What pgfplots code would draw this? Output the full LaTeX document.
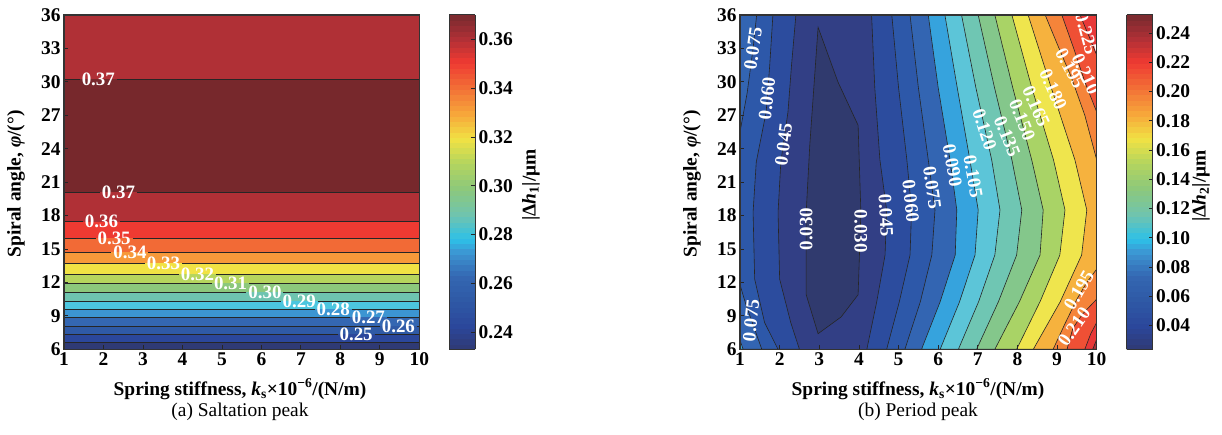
\documentclass[border=0pt]{standalone}
\usepackage{fontspec}
\setmainfont{Liberation Serif}
\usepackage{pgfplots}
\pgfplotsset{compat=1.18}
\newcommand\tl{\fontsize{19.5}{21}\selectfont\bfseries}
\newcommand\cl{\fontsize{19}{20}\selectfont\bfseries}
% plot 1 band colours
\definecolor{a0}{HTML}{2F3A74}
\definecolor{a1}{HTML}{2B479B}
\definecolor{a2}{HTML}{2F5AA6}
\definecolor{a3}{HTML}{3467B2}
\definecolor{a4}{HTML}{3C95D2}
\definecolor{a5}{HTML}{4CC6DF}
\definecolor{a6}{HTML}{6EC4B0}
\definecolor{a7}{HTML}{8CC87C}
\definecolor{a8}{HTML}{B6D55D}
\definecolor{a9}{HTML}{F1E244}
\definecolor{a10}{HTML}{F7993A}
\definecolor{a11}{HTML}{F26A36}
\definecolor{a12}{HTML}{EE3A32}
\definecolor{a13}{HTML}{B03036}
\definecolor{a14}{HTML}{77282C}
% plot 2 band colours
\definecolor{c0}{HTML}{303A6E}
\definecolor{c1}{HTML}{323F85}
\definecolor{c2}{HTML}{2C4C9E}
\definecolor{c3}{HTML}{2D58A9}
\definecolor{c4}{HTML}{3365B2}
\definecolor{c5}{HTML}{36A3DD}
\definecolor{c6}{HTML}{5CC5D8}
\definecolor{c7}{HTML}{6FC6B3}
\definecolor{c8}{HTML}{84C78B}
\definecolor{c9}{HTML}{A9D366}
\definecolor{c10}{HTML}{EFE54D}
\definecolor{c11}{HTML}{F6B23E}
\definecolor{c12}{HTML}{F5843A}
\definecolor{c13}{HTML}{EF5035}
\definecolor{c14}{HTML}{E83838}
\definecolor{c15}{HTML}{AD2F3A}
\tikzset{clab/.style={text=white, font=\cl, inner sep=0pt}}
\pgfplotsset{
  colormap={mymap}{rgb255(0cm)=(47,58,116) rgb255(7cm)=(43,71,155) rgb255(15cm)=(47,90,166) rgb255(22cm)=(52,103,178) rgb255(29cm)=(60,149,210) rgb255(33cm)=(45,192,232) rgb255(40cm)=(110,196,176) rgb255(48cm)=(140,200,124) rgb255(56cm)=(182,213,93) rgb255(63cm)=(241,226,68) rgb255(71cm)=(247,163,58) rgb255(79cm)=(242,106,54) rgb255(86cm)=(238,58,50) rgb255(93cm)=(176,48,54) rgb255(100cm)=(119,42,46)},
  base/.style={
    scale only axis, width=355.3bp, height=334.3bp,
    xmin=1, xmax=10, ymin=6, ymax=36,
    xtick={1,2,3,4,5,6,7,8,9,10}, ytick={6,9,12,15,18,21,24,27,30,33,36},
    tick align=inside, xtick pos=left, ytick pos=left,
    major tick length=4bp,
    tick style={black!85, line width=0.8bp},
    axis line style={black!80, line width=1.1bp},
    tick label style={font=\tl},
    /pgf/number format/assume math mode=true,
    unbounded coords=jump,
    axis on top,
    colormap name=mymap,
    colorbar sampled,
  },
  cbar/.style={
    colorbar style={
      scale only axis, width=26bp, samples=64,
      at={(parent axis.north east)}, anchor=north west, xshift=21.4bp,
      tick align=inside, ytick pos=right, major tick length=4bp,
      tick style={black!85, line width=0.8bp},
      axis line style={black!80, line width=1bp},
      axis on top,
      yticklabel style={font=\tl},
      yticklabel={\pgfmathprintnumber[fixed,fixed zerofill,precision=2,assume math mode=true]{\tick}},
      ytick={#1},
    }
  },
}
\begin{document}
\begin{tikzpicture}
\useasboundingbox (0,0) rectangle (1222bp,435bp);
% ---------------- (a) ----------------
\begin{axis}[base, at={(64bp,85.7bp)}, anchor=south west,
  point meta min=0.233, point meta max=0.370,
  cbar={0.24,0.26,0.28,0.30,0.32,0.34,0.36}]
\addplot[fill=a0, draw=none] coordinates {(1,6)(10,6)(10,6.6)(1,6.6)} -- cycle;
\addplot[fill=a1, draw=none] coordinates {(1,6.6)(10,6.6)(10,7.34)(1,7.34)} -- cycle;
\addplot[fill=a2, draw=none] coordinates {(1,7.34)(10,7.34)(10,8.10)(1,8.10)} -- cycle;
\addplot[fill=a3, draw=none] coordinates {(1,8.10)(10,8.10)(10,8.87)(1,8.87)} -- cycle;
\addplot[fill=a4, draw=none] coordinates {(1,8.87)(10,8.87)(10,9.59)(1,9.59)} -- cycle;
\addplot[fill=a5, draw=none] coordinates {(1,9.59)(10,9.59)(10,10.33)(1,10.33)} -- cycle;
\addplot[fill=a6, draw=none] coordinates {(1,10.33)(10,10.33)(10,11.11)(1,11.11)} -- cycle;
\addplot[fill=a7, draw=none] coordinates {(1,11.11)(10,11.11)(10,11.92)(1,11.92)} -- cycle;
\addplot[fill=a8, draw=none] coordinates {(1,11.92)(10,11.92)(10,12.76)(1,12.76)} -- cycle;
\addplot[fill=a9, draw=none] coordinates {(1,12.76)(10,12.76)(10,13.71)(1,13.71)} -- cycle;
\addplot[fill=a10, draw=none] coordinates {(1,13.71)(10,13.71)(10,14.70)(1,14.70)} -- cycle;
\addplot[fill=a11, draw=none] coordinates {(1,14.70)(10,14.70)(10,15.96)(1,15.96)} -- cycle;
\addplot[fill=a12, draw=none] coordinates {(1,15.96)(10,15.96)(10,17.45)(1,17.45)} -- cycle;
\addplot[fill=a13, draw=none] coordinates {(1,17.45)(10,17.45)(10,20.09)(1,20.09)} -- cycle;
\addplot[fill=a14, draw=none] coordinates {(1,20.09)(10,20.09)(10,30.26)(1,30.26)} -- cycle;
\addplot[fill=a13, draw=none] coordinates {(1,30.26)(10,30.26)(10,36)(1,36)} -- cycle;
\addplot[black!85, line width=0.6bp] coordinates {
 (1,30.26)(1.40,30.26)(1.5,nan)(2.34,30.26)(10,30.26)(5,nan)
 (1,20.09)(1.91,20.09)(2,nan)(2.85,20.09)(10,20.09)(5,nan)
 (1,17.45)(1.48,17.45)(1.5,nan)(2.42,17.45)(10,17.45)(5,nan)
 (1,15.96)(1.80,15.96)(2,nan)(2.74,15.96)(10,15.96)(5,nan)
 (1,14.70)(2.20,14.70)(2.3,nan)(3.14,14.70)(10,14.70)(5,nan)
 (1,13.71)(3.05,13.71)(3.2,nan)(3.99,13.71)(10,13.71)(5,nan)
 (1,12.76)(3.91,12.76)(4,nan)(4.85,12.76)(10,12.76)(5,nan)
 (1,11.92)(4.75,11.92)(5,nan)(5.69,11.92)(10,11.92)(5,nan)
 (1,11.11)(5.62,11.11)(5.8,nan)(6.56,11.11)(10,11.11)(5,nan)
 (1,10.33)(6.49,10.33)(6.6,nan)(7.43,10.33)(10,10.33)(5,nan)
 (1,9.59)(7.35,9.59)(7.5,nan)(8.29,9.59)(10,9.59)(5,nan)
 (1,8.87)(8.24,8.87)(8.4,nan)(9.18,8.87)(10,8.87)(5,nan)
 (1,8.10)(9.00,8.10)(9.2,nan)(9.94,8.10)(10,8.10)(5,nan)
 (1,7.34)(7.93,7.34)(8,nan)(8.87,7.34)(10,7.34)(5,nan)
 (1,6.60)(10,6.60)};
\node[clab] at (axis cs:1.87,30.26) {0.37};
\node[clab] at (axis cs:2.38,20.09) {0.37};
\node[clab] at (axis cs:1.95,17.45) {0.36};
\node[clab] at (axis cs:2.27,15.96) {0.35};
\node[clab] at (axis cs:2.67,14.70) {0.34};
\node[clab] at (axis cs:3.52,13.71) {0.33};
\node[clab] at (axis cs:4.38,12.76) {0.32};
\node[clab] at (axis cs:5.22,11.92) {0.31};
\node[clab] at (axis cs:6.09,11.11) {0.30};
\node[clab] at (axis cs:6.96,10.33) {0.29};
\node[clab] at (axis cs:7.82,9.59) {0.28};
\node[clab] at (axis cs:8.71,8.87) {0.27};
\node[clab] at (axis cs:9.47,8.10) {0.26};
\node[clab] at (axis cs:8.40,7.34) {0.25};
\end{axis}
% ---------------- (b) ----------------
\begin{axis}[base, width=356.7bp, at={(740bp,85.7bp)}, anchor=south west,
  point meta min=0.0236, point meta max=0.2525,
  cbar={0.04,0.06,0.08,0.10,0.12,0.14,0.16,0.18,0.20,0.22,0.24}]
\addplot[fill=c1, draw=none] coordinates {(1,6)(10,6)(10,36)(1,36)} -- cycle;
\pgfplotsset{every axis plot/.append style={draw=black!85, line width=0.6bp}}
% island < 0.030
\addplot[fill=c0] coordinates {(2.97,34.9)(3.47,30)(3.98,26.1)(4.05,18.3)(3.98,10.9)(3.55,8.9)(2.97,7.4)(2.67,10.9)(2.67,18.3)(2.76,24.3)(2.97,34.9)} -- cycle;
% 0.045
\addplot[fill=c2] coordinates {(1,36)(2.41,36)(2.30,31.5)(2.21,27.3)(2.03,22.8)(1.96,18.3)(2.0,12.3)(2.28,8.4)(2.5,6)(1,6)} -- cycle;
\addplot[fill=c2] coordinates {(4.32,36)(4.40,29.5)(4.53,23)(4.70,18.5)(4.66,14.46)(4.45,10.27)(4.20,6)(10,6)(10,36)} -- cycle;
% 0.060
\addplot[fill=c3] coordinates {(1,36)(1.83,36)(1.75,31.5)(1.66,27.3)(1.41,22.8)(1.33,18.3)(1.37,12.3)(1.62,8.4)(1.96,6)(1,6)} -- cycle;
\addplot[fill=c3] coordinates {(4.83,36)(5.00,29.5)(5.21,23)(5.33,18.5)(5.29,14.46)(5.02,10.27)(4.70,6)(10,6)(10,36)} -- cycle;
% 0.075
\addplot[fill=c4] coordinates {(1,36)(1.42,36)(1.33,33)(1.18,29)(1,25.5)} -- cycle;
\addplot[fill=c4] coordinates {(1,11.8)(1.15,10)(1.3,8.5)(1.45,7)(1.55,6)(1,6)} -- cycle;
\addplot[fill=c4] coordinates {(5.29,36)(5.50,29.5)(5.75,23)(5.92,18.5)(5.84,14.46)(5.55,10.27)(5.16,6)(10,6)(10,36)} -- cycle;
% 0.090
\addplot[fill=c5] coordinates {(1,6.8)(1.08,6)(1,6)} -- cycle;
\addplot[fill=c5] coordinates {(5.75,36)(6.00,29.5)(6.30,23)(6.47,18.5)(6.43,14.46)(6.05,10.27)(5.58,6)(10,6)(10,36)} -- cycle;
% 0.105
\addplot[fill=c6] coordinates {(6.17,36)(6.48,29.5)(6.80,23)(7.01,18.5)(6.93,14.46)(6.54,10.27)(6.05,6)(10,6)(10,36)} -- cycle;
% 0.120
\addplot[fill=c7] coordinates {(6.59,36)(6.95,29.5)(7.35,23)(7.56,18.5)(7.43,14.46)(7.02,10.27)(6.51,6)(10,6)(10,36)} -- cycle;
% 0.135
\addplot[fill=c8] coordinates {(7.01,36)(7.42,29.5)(7.86,23)(8.11,18.5)(7.98,14.46)(7.52,10.27)(6.97,6)(10,6)(10,36)} -- cycle;
% 0.150
\addplot[fill=c9] coordinates {(7.43,36)(7.88,29.5)(8.36,23)(8.65,18.5)(8.57,14.46)(8.05,10.27)(7.43,6)(10,6)(10,36)} -- cycle;
% 0.165
\addplot[fill=c10] coordinates {(7.86,36)(8.36,29.5)(8.91,23)(9.20,18.5)(9.07,14.46)(8.57,10.27)(7.98,6)(10,6)(10,36)} -- cycle;
% 0.180
\addplot[fill=c11] coordinates {(8.27,36)(8.85,29.5)(9.45,23)(9.75,18.5)(9.62,14.46)(9.08,10.27)(8.40,6)(10,6)(10,36)} -- cycle;
% 0.195
\addplot[fill=c12] coordinates {(8.70,36)(9.05,33)(9.35,30.5)(9.7,27)(10,23)(10,36)} -- cycle;
\addplot[fill=c12] coordinates {(10,13.2)(9.75,12)(9.5,10.5)(9.2,8.3)(8.9,6)(10,6)} -- cycle;
% 0.210
\addplot[fill=c13] coordinates {(9.12,36)(9.42,33)(9.7,30)(10,27.3)(10,36)} -- cycle;
\addplot[fill=c13] coordinates {(10,10.5)(9.65,9.2)(9.4,7.9)(9.25,6)(10,6)} -- cycle;
% 0.225
\addplot[fill=c14] coordinates {(9.58,36)(9.78,34.3)(10,32.4)(10,36)} -- cycle;
\addplot[fill=c14] coordinates {(10,8.4)(9.85,7.4)(9.7,6)(10,6)} -- cycle;
% 0.240
\addplot[fill=c15] coordinates {(10,6.9)(9.9,6)(10,6)} -- cycle;
% labels
\node[clab, rotate=82] at (axis cs:1.33,33) {0.075};
\node[clab, rotate=84] at (axis cs:1.68,28.5) {0.060};
\node[clab, rotate=83] at (axis cs:2.10,24.4) {0.045};
\node[clab, rotate=90] at (axis cs:2.67,16.8) {0.030};
\node[clab, rotate=-90] at (axis cs:4.05,16.6) {0.030};
\node[clab, rotate=84] at (axis cs:1.28,8.6) {0.075};
\node[clab, rotate=-87] at (axis cs:4.68,18.0) {0.045};
\node[clab, rotate=-84] at (axis cs:5.31,19.3) {0.060};
\node[clab, rotate=-82] at (axis cs:5.85,20.5) {0.075};
\node[clab, rotate=-80] at (axis cs:6.36,22.5) {0.090};
\node[clab, rotate=-80] at (axis cs:6.88,21.5) {0.105};
\node[clab, rotate=-72] at (axis cs:7.17,25.7) {0.120};
\node[clab, rotate=-68] at (axis cs:7.74,25.1) {0.135};
\node[clab, rotate=-68] at (axis cs:8.12,26.6) {0.150};
\node[clab, rotate=-66] at (axis cs:8.47,27.8) {0.165};
\node[clab, rotate=-66] at (axis cs:8.90,29.3) {0.180};
\node[clab, rotate=-62] at (axis cs:9.33,31.2) {0.195};
\node[clab, rotate=-65] at (axis cs:9.72,30.7) {0.210};
\node[clab, rotate=-75] at (axis cs:9.74,34.3) {0.225};
\node[clab, rotate=60] at (axis cs:9.55,11.3) {0.195};
\node[clab, rotate=55] at (axis cs:9.43,8.0) {0.210};
\end{axis}
% outer texts
\node[font=\tl] at (240bp,46bp) {Spring stiffness, \textit{k}\textsubscript{s}×10\textsuperscript{−6}/(N/m)};
\node[font=\tl] at (918bp,46bp) {Spring stiffness, \textit{k}\textsubscript{s}×10\textsuperscript{−6}/(N/m)};
\node[font=\fontsize{19.5}{21}\selectfont] at (240bp,23bp) {(a) Saltation peak};
\node[font=\fontsize{19.5}{21}\selectfont] at (918bp,23bp) {(b) Period peak};
\node[font=\tl, rotate=90] at (16bp,251bp) {Spiral angle, \textit{φ}/(°)};
\node[font=\tl, rotate=90] at (692bp,251bp) {Spiral angle, \textit{φ}/(°)};
\node[font=\tl, rotate=90] at (531bp,250bp) {|Δ\textit{h}\textsubscript{1}|/μm};
\node[font=\tl, rotate=90] at (1201bp,249bp) {|Δ\textit{h}\textsubscript{2}|/μm};
\end{tikzpicture}
\end{document}
